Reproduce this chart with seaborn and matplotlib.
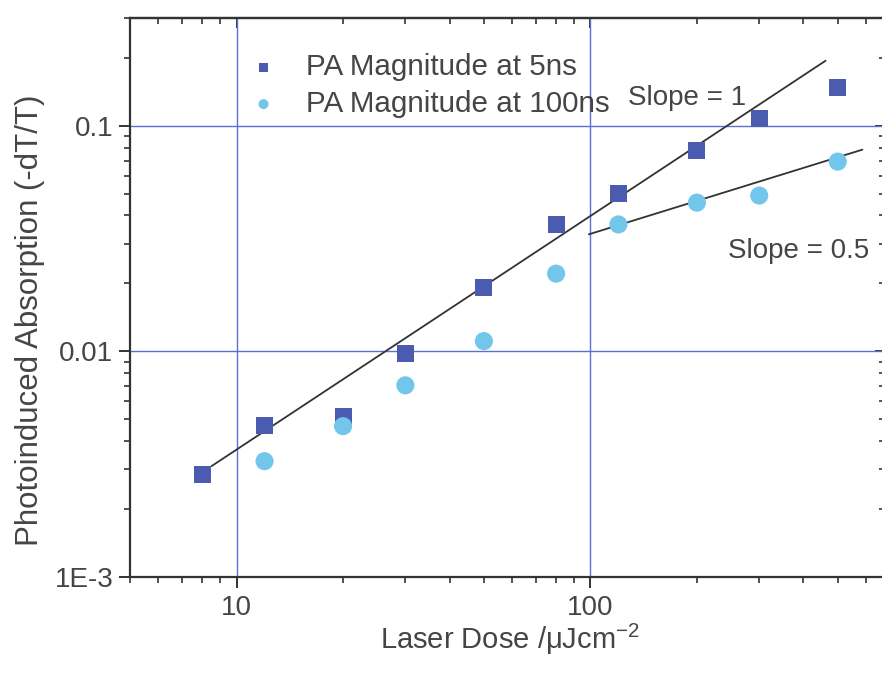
import numpy as np
import pandas as pd
import matplotlib
matplotlib.use("Agg")
import matplotlib.pyplot as plt
import matplotlib.ticker as mticker
import seaborn as sns

# ---- data ----
dose_5ns = [8, 12, 20, 30, 50, 80, 120, 200, 300, 500]
pa_5ns = [0.00286, 0.00471, 0.00515, 0.0098, 0.0192, 0.0365, 0.050, 0.0775, 0.108, 0.147]
dose_100ns = [12, 20, 30, 50, 80, 120, 200, 300, 500]
pa_100ns = [0.00326, 0.00466, 0.00707, 0.0111, 0.0221, 0.0365, 0.0456, 0.049, 0.0693]
fit1_x = [8.5, 462]
fit1_y = [0.0031, 0.194]
fit2_x = [99, 587]
fit2_y = [0.033, 0.0783]
label_5ns = "PA Magnitude at 5ns"
label_100ns = "PA Magnitude at 100ns"

sns.set_style("ticks")
plt.rcParams['font.family'] = ['Liberation Sans', 'DejaVu Sans']
plt.rcParams['mathtext.fontset'] = 'custom'
plt.rcParams['mathtext.rm'] = 'Liberation Sans'
plt.rcParams['mathtext.it'] = 'Liberation Sans'

txt = '#454545'
sq_col = '#4a5bb0'
ci_col = '#72c6ec'
axcol = '#333333'

fig = plt.figure(figsize=(8.82, 6.75), dpi=100)
ax = fig.add_axes([130/882, 98/675, (885-130)/882, (577-18)/675])

df5 = pd.DataFrame({"dose": dose_5ns, "pa": pa_5ns})
df100 = pd.DataFrame({"dose": dose_100ns, "pa": pa_100ns})

ax.set_xscale('log')
ax.set_yscale('log')

sns.lineplot(x=fit1_x, y=fit1_y, ax=ax, color=axcol, lw=1.3, zorder=3)
sns.lineplot(x=fit2_x, y=fit2_y, ax=ax, color=axcol, lw=1.3, zorder=3)
sns.scatterplot(data=df5, x="dose", y="pa", ax=ax, marker='s', s=150, color=sq_col,
                edgecolor='none', label=label_5ns, zorder=4)
sns.scatterplot(data=df100, x="dose", y="pa", ax=ax, marker='o', s=170, color=ci_col,
                edgecolor='none', label=label_100ns, zorder=4)

ax.set_xlim(5, 680)
ax.set_ylim(1e-3, 0.3)

for x in [10, 100]:
    ax.axvline(x, color='#5a6fd8', lw=1.0, zorder=1)
for y in [0.1, 0.01]:
    ax.axhline(y, color='#5a6fd8', lw=1.0, zorder=1)

for s in ax.spines.values():
    s.set_visible(True)
    s.set_linewidth(1.6)
    s.set_color(axcol)

ax.xaxis.set_major_locator(mticker.LogLocator(base=10))
ax.xaxis.set_minor_locator(mticker.LogLocator(base=10, subs=np.arange(2, 10)))
ax.yaxis.set_major_locator(mticker.LogLocator(base=10))
ax.yaxis.set_minor_locator(mticker.LogLocator(base=10, subs=np.arange(2, 10)))
ax.xaxis.set_minor_formatter(mticker.NullFormatter())
ax.yaxis.set_minor_formatter(mticker.NullFormatter())

def xfmt(v, pos):
    return f"{v:g}"

def yfmt(v, pos):
    if v < 0.005:
        return "1E-3"
    return f"{v:g}"

ax.xaxis.set_major_formatter(mticker.FuncFormatter(xfmt))
ax.yaxis.set_major_formatter(mticker.FuncFormatter(yfmt))

ax.tick_params(axis='both', which='major', direction='out', length=8, width=1.4, color=axcol,
               labelsize=20, labelcolor=txt, top=False, right=False)
ax.tick_params(axis='both', which='minor', direction='out', length=4.5, width=1.2, color=axcol,
               top=False, right=False)
ax.tick_params(axis='y', which='major', pad=4)
ax.tick_params(axis='x', which='major', pad=5)

# inward ticks on top/right
secx = ax.secondary_xaxis('top')
secx.tick_params(which='major', direction='in', length=7, width=1.4, color=axcol, labeltop=False)
secx.tick_params(which='minor', direction='in', length=4, width=1.2, color=axcol)
secx.xaxis.set_minor_locator(mticker.LogLocator(base=10, subs=np.arange(2, 10)))
secx.xaxis.set_minor_formatter(mticker.NullFormatter())
secx.set_xticklabels([])
secy = ax.secondary_yaxis('right')
secy.tick_params(which='major', direction='in', length=7, width=1.4, color=axcol, labelright=False)
secy.tick_params(which='minor', direction='in', length=4, width=1.2, color=axcol)
secy.yaxis.set_minor_locator(mticker.LogLocator(base=10, subs=np.arange(2, 10)))
secy.yaxis.set_minor_formatter(mticker.NullFormatter())
secy.set_yticklabels([])
for sp in list(secx.spines.values()) + list(secy.spines.values()):
    sp.set_linewidth(1.6)
    sp.set_color(axcol)

ax.set_xlabel("Laser Dose /μJcm$^{-2}$", fontsize=21, color=txt)
ax.xaxis.set_label_coords(0.503, -0.08)
ax.set_ylabel("Photoinduced Absorption (-dT/T)", fontsize=22.5, color=txt)
ax.yaxis.set_label_coords(-0.113, 0.46)

ax.text(128, 0.133, "Slope = 1", fontsize=20, color=txt, va='center', ha='left')
ax.text(245, 0.0277, "Slope = 0.5", fontsize=20, color=txt, va='center', ha='left')

leg = ax.legend(loc='upper left', bbox_to_anchor=(0.122, 0.985), frameon=False,
                fontsize=21.3, markerscale=0.55, handlelength=1.0, handletextpad=0.92,
                labelspacing=0.3, labelcolor=txt)

fig.savefig("out.png", dpi=100)
